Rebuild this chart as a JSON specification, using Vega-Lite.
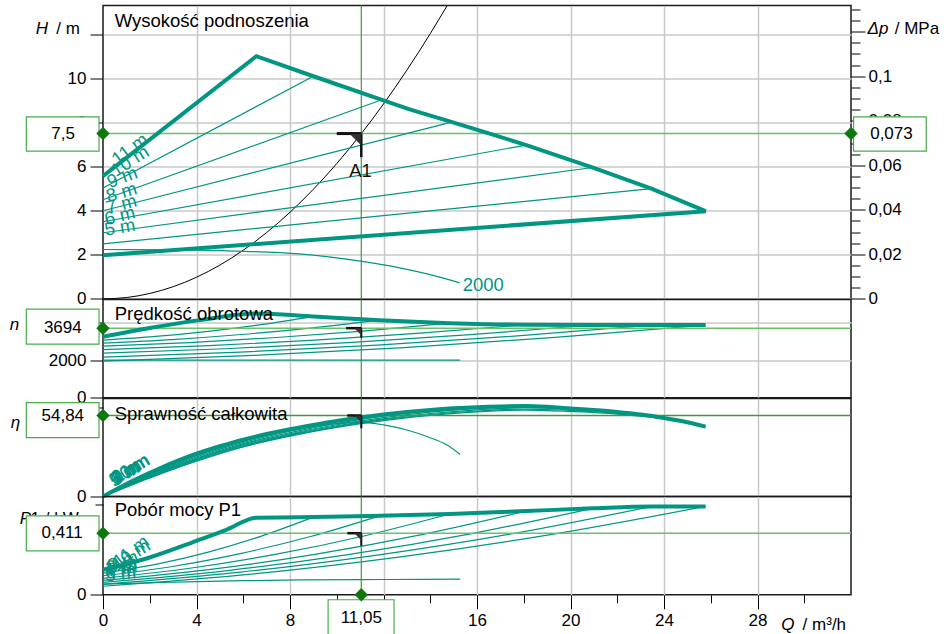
{
"$schema":"https://vega.github.io/schema/vega-lite/v6.json",
"background":"white",
"padding":{"left":8,"top":3.5,"right":0,"bottom":0},
"autosize":{"type":"pad"},
"spacing":0,
"bounds":"flush",
"config":{
 "font":"Liberation Sans",
 "locale":{"number":{"decimal":",","thousands":" ","grouping":[3],"currency":[""," zł"]}},
 "view":{"stroke":"#1a1a1a","strokeWidth":1.5},
 "axis":{"labelFont":"Liberation Sans","labelFontSize":17,"labelColor":"#000","tickColor":"#000","tickWidth":1,"domainColor":"#000","gridColor":"#c8c8c8","gridWidth":1.5,"labelOverlap":false,"labelBound":false},
 "text":{"font":"Liberation Sans","fontSize":17}
},
"datasets":{
 "op":[{"Q":11.05,"H":7.5,"dp":0.073,"n":3694,"e":54.84,"P":0.411}],
 "sys":[{"Q":0,"H":0},{"Q":1,"H":0.061},{"Q":2,"H":0.246},{"Q":3,"H":0.553},{"Q":4,"H":0.982},{"Q":5,"H":1.535},{"Q":6,"H":2.21},{"Q":7,"H":3.009},{"Q":8,"H":3.93},{"Q":9,"H":4.973},{"Q":10,"H":6.14},{"Q":11,"H":7.429},{"Q":12,"H":8.842},{"Q":13,"H":10.377},{"Q":14,"H":12.034},{"Q":14.72,"H":13.3}],
 "hc":[
  {"s":"env","k":"env","o":1,"Q":0,"H":5.57},{"s":"env","k":"env","o":2,"Q":6.56,"H":11.01},{"s":"env","k":"env","o":3,"Q":9.0,"H":10.1},{"s":"env","k":"env","o":4,"Q":11.84,"H":9.06},{"s":"env","k":"env","o":5,"Q":13.12,"H":8.6},{"s":"env","k":"env","o":6,"Q":14.83,"H":8.05},{"s":"env","k":"env","o":7,"Q":16.68,"H":7.45},{"s":"env","k":"env","o":8,"Q":18.11,"H":6.98},{"s":"env","k":"env","o":9,"Q":20.96,"H":5.96},{"s":"env","k":"env","o":10,"Q":23.46,"H":5.0},{"s":"env","k":"env","o":11,"Q":25.78,"H":3.98},{"s":"env","k":"env","o":12,"Q":0,"H":1.98},
  {"s":"10 m","k":"set","Q":0,"H":5.03},{"s":"10 m","k":"set","Q":9.0,"H":10.1},
  {"s":"9 m","k":"set","Q":0,"H":4.5},{"s":"9 m","k":"set","Q":11.84,"H":9.0},
  {"s":"8 m","k":"set","Q":0,"H":4.0},{"s":"8 m","k":"set","Q":14.83,"H":8.0},
  {"s":"7 m","k":"set","Q":0,"H":3.5},{"s":"7 m","k":"set","Q":18.11,"H":6.98},
  {"s":"6 m","k":"set","Q":0,"H":3.0},{"s":"6 m","k":"set","Q":20.96,"H":5.96},
  {"s":"5 m","k":"set","Q":0,"H":2.5},{"s":"5 m","k":"set","Q":23.46,"H":5.0},
  {"s":"2000","k":"spd","Q":0,"H":2.24},{"s":"2000","k":"spd","Q":4,"H":2.21},{"s":"2000","k":"spd","Q":6,"H":2.16},{"s":"2000","k":"spd","Q":8.4,"H":2.04},{"s":"2000","k":"spd","Q":11.02,"H":1.71},{"s":"2000","k":"spd","Q":12.69,"H":1.41},{"s":"2000","k":"spd","Q":14,"H":1.1},{"s":"2000","k":"spd","Q":15.26,"H":0.73}
 ],
 "hlab":[{"s":"11 m","Q":1.15,"H":6.79},{"s":"10 m","Q":1.15,"H":6.25},{"s":"9 m","Q":0.82,"H":5.52},{"s":"8 m","Q":0.79,"H":4.84},{"s":"7 m","Q":0.79,"H":4.3},{"s":"6 m","Q":0.72,"H":3.78},{"s":"5 m","Q":0.72,"H":3.25}],
 "nc":[
  {"s":"env","k":"env","Q":0,"n":3236},{"s":"env","k":"env","Q":2,"n":3700},{"s":"env","k":"env","Q":4.14,"n":4120},{"s":"env","k":"env","Q":6.56,"n":4470},{"s":"env","k":"env","Q":9,"n":4310},{"s":"env","k":"env","Q":11.84,"n":4120},{"s":"env","k":"env","Q":14.83,"n":3960},{"s":"env","k":"env","Q":16,"n":3915},{"s":"env","k":"env","Q":18.11,"n":3878},{"s":"env","k":"env","Q":20.96,"n":3862},{"s":"env","k":"env","Q":23.46,"n":3858},{"s":"env","k":"env","Q":25.78,"n":3857},
  {"s":"10 m","k":"set","Q":0,"n":3060},{"s":"10 m","k":"set","Q":2.25,"n":3255},{"s":"10 m","k":"set","Q":4.5,"n":3529},{"s":"10 m","k":"set","Q":6.75,"n":3880},{"s":"10 m","k":"set","Q":9,"n":4310},
  {"s":"9 m","k":"set","Q":0,"n":2900},{"s":"9 m","k":"set","Q":2.96,"n":3090},{"s":"9 m","k":"set","Q":5.92,"n":3358},{"s":"9 m","k":"set","Q":8.88,"n":3700},{"s":"9 m","k":"set","Q":11.84,"n":4120},
  {"s":"8 m","k":"set","Q":0,"n":2740},{"s":"8 m","k":"set","Q":3.71,"n":2930},{"s":"8 m","k":"set","Q":7.42,"n":3198},{"s":"8 m","k":"set","Q":11.12,"n":3540},{"s":"8 m","k":"set","Q":14.83,"n":3960},
  {"s":"7 m","k":"set","Q":0,"n":2560},{"s":"7 m","k":"set","Q":4.53,"n":2766},{"s":"7 m","k":"set","Q":9.06,"n":3055},{"s":"7 m","k":"set","Q":13.58,"n":3426},{"s":"7 m","k":"set","Q":18.11,"n":3878},
  {"s":"6 m","k":"set","Q":0,"n":2370},{"s":"6 m","k":"set","Q":5.24,"n":2603},{"s":"6 m","k":"set","Q":10.48,"n":2931},{"s":"6 m","k":"set","Q":15.72,"n":3351},{"s":"6 m","k":"set","Q":20.96,"n":3862},
  {"s":"5 m","k":"set","Q":0,"n":2160},{"s":"5 m","k":"set","Q":5.87,"n":2425},{"s":"5 m","k":"set","Q":11.73,"n":2798},{"s":"5 m","k":"set","Q":17.6,"n":3275},{"s":"5 m","k":"set","Q":23.46,"n":3858},
  {"s":"4 m","k":"set","Q":0,"n":1950},{"s":"4 m","k":"set","Q":6.45,"n":2248},{"s":"4 m","k":"set","Q":12.89,"n":2666},{"s":"4 m","k":"set","Q":19.34,"n":3203},{"s":"4 m","k":"set","Q":25.78,"n":3857},
  {"s":"2000","k":"spd","Q":0,"n":2000},{"s":"2000","k":"spd","Q":15.28,"n":2000}
 ],
 "ec":[
  {"s":"env","k":"env","Q":0,"e":0},{"s":"env","k":"env","Q":1,"e":8.5},{"s":"env","k":"env","Q":2,"e":16},{"s":"env","k":"env","Q":3,"e":23},{"s":"env","k":"env","Q":4,"e":29},{"s":"env","k":"env","Q":5,"e":34},{"s":"env","k":"env","Q":6,"e":38.5},{"s":"env","k":"env","Q":7,"e":42.3},{"s":"env","k":"env","Q":8,"e":45.6},{"s":"env","k":"env","Q":9,"e":48.5},{"s":"env","k":"env","Q":10,"e":51.2},{"s":"env","k":"env","Q":11,"e":53.5},{"s":"env","k":"env","Q":12,"e":55.5},{"s":"env","k":"env","Q":13,"e":57.2},{"s":"env","k":"env","Q":14,"e":58.6},{"s":"env","k":"env","Q":15,"e":59.7},{"s":"env","k":"env","Q":16,"e":60.5},{"s":"env","k":"env","Q":17,"e":61},{"s":"env","k":"env","Q":18,"e":61.2},{"s":"env","k":"env","Q":19,"e":60.7},{"s":"env","k":"env","Q":20,"e":59.6},{"s":"env","k":"env","Q":21,"e":58.5},{"s":"env","k":"env","Q":22,"e":57.2},{"s":"env","k":"env","Q":23,"e":55.5},{"s":"env","k":"env","Q":24,"e":53.2},{"s":"env","k":"env","Q":25,"e":50.3},{"s":"env","k":"env","Q":25.78,"e":47.3},
  {"s":"10 m","k":"set","Q":0,"e":0},{"s":"10 m","k":"set","Q":2,"e":15.0},{"s":"10 m","k":"set","Q":4,"e":27.8},{"s":"10 m","k":"set","Q":6,"e":37.7},{"s":"10 m","k":"set","Q":8,"e":45.3},{"s":"10 m","k":"set","Q":9,"e":48.5},
  {"s":"9 m","k":"set","Q":0,"e":0},{"s":"9 m","k":"set","Q":2,"e":14.4},{"s":"9 m","k":"set","Q":4,"e":26.8},{"s":"9 m","k":"set","Q":6,"e":36.6},{"s":"9 m","k":"set","Q":8,"e":44.2},{"s":"9 m","k":"set","Q":10,"e":50.5},{"s":"9 m","k":"set","Q":11.84,"e":55.2},
  {"s":"8 m","k":"set","Q":0,"e":0},{"s":"8 m","k":"set","Q":2,"e":13.9},{"s":"8 m","k":"set","Q":4,"e":26.0},{"s":"8 m","k":"set","Q":6,"e":35.8},{"s":"8 m","k":"set","Q":8,"e":43.3},{"s":"8 m","k":"set","Q":10,"e":49.5},{"s":"8 m","k":"set","Q":12,"e":54.4},{"s":"8 m","k":"set","Q":14,"e":58.3},{"s":"8 m","k":"set","Q":14.83,"e":59.5},
  {"s":"7 m","k":"set","Q":0,"e":0},{"s":"7 m","k":"set","Q":2,"e":13.5},{"s":"7 m","k":"set","Q":4,"e":25.4},{"s":"7 m","k":"set","Q":6,"e":35.1},{"s":"7 m","k":"set","Q":8,"e":42.5},{"s":"7 m","k":"set","Q":10,"e":48.6},{"s":"7 m","k":"set","Q":12,"e":53.4},{"s":"7 m","k":"set","Q":14,"e":57.1},{"s":"7 m","k":"set","Q":16,"e":59.7},{"s":"7 m","k":"set","Q":18.11,"e":61.2},
  {"s":"6 m","k":"set","Q":0,"e":0},{"s":"6 m","k":"set","Q":2,"e":13.2},{"s":"6 m","k":"set","Q":4,"e":24.9},{"s":"6 m","k":"set","Q":6,"e":34.5},{"s":"6 m","k":"set","Q":8,"e":41.9},{"s":"6 m","k":"set","Q":10,"e":47.9},{"s":"6 m","k":"set","Q":12,"e":52.6},{"s":"6 m","k":"set","Q":14,"e":56.2},{"s":"6 m","k":"set","Q":16,"e":58.7},{"s":"6 m","k":"set","Q":18,"e":60.1},{"s":"6 m","k":"set","Q":20,"e":59.2},{"s":"6 m","k":"set","Q":20.96,"e":58.5},
  {"s":"5 m","k":"set","Q":0,"e":0},{"s":"5 m","k":"set","Q":2,"e":12.8},{"s":"5 m","k":"set","Q":4,"e":24.3},{"s":"5 m","k":"set","Q":6,"e":34.0},{"s":"5 m","k":"set","Q":8,"e":41.4},{"s":"5 m","k":"set","Q":10,"e":47.3},{"s":"5 m","k":"set","Q":12,"e":52.0},{"s":"5 m","k":"set","Q":14,"e":55.5},{"s":"5 m","k":"set","Q":16,"e":57.9},{"s":"5 m","k":"set","Q":18,"e":59.2},{"s":"5 m","k":"set","Q":20,"e":58.3},{"s":"5 m","k":"set","Q":22,"e":56.6},{"s":"5 m","k":"set","Q":23.46,"e":54.4},
  {"s":"4 m","k":"set","Q":0,"e":0},{"s":"4 m","k":"set","Q":2,"e":12.6},{"s":"4 m","k":"set","Q":4,"e":23.9},{"s":"4 m","k":"set","Q":6,"e":33.6},{"s":"4 m","k":"set","Q":8,"e":40.9},{"s":"4 m","k":"set","Q":10,"e":46.8},{"s":"4 m","k":"set","Q":12,"e":51.4},{"s":"4 m","k":"set","Q":14,"e":54.9},{"s":"4 m","k":"set","Q":16,"e":57.3},{"s":"4 m","k":"set","Q":18,"e":58.5},{"s":"4 m","k":"set","Q":20,"e":57.5},{"s":"4 m","k":"set","Q":22,"e":55.8},{"s":"4 m","k":"set","Q":24,"e":52.5},{"s":"4 m","k":"set","Q":25.78,"e":47.3},
  {"s":"2000","k":"spd","Q":0,"e":0},{"s":"2000","k":"spd","Q":2,"e":15},{"s":"2000","k":"spd","Q":4,"e":28},{"s":"2000","k":"spd","Q":6,"e":37.5},{"s":"2000","k":"spd","Q":8,"e":44.5},{"s":"2000","k":"spd","Q":10,"e":49.3},{"s":"2000","k":"spd","Q":11,"e":50.3},{"s":"2000","k":"spd","Q":12,"e":48.5},{"s":"2000","k":"spd","Q":13,"e":45},{"s":"2000","k":"spd","Q":14,"e":39.8},{"s":"2000","k":"spd","Q":14.7,"e":35},{"s":"2000","k":"spd","Q":15.28,"e":28.5}
 ],
 "elab":[{"s":"11 m","Q":1.2,"e":19.0},{"s":"10 m","Q":1.15,"e":18.3},{"s":"9 m","Q":1.0,"e":17.4},{"s":"8 m","Q":1.0,"e":16.8},{"s":"7 m","Q":0.95,"e":16.2},{"s":"6 m","Q":0.95,"e":15.6},{"s":"5 m","Q":0.9,"e":15.0}],
 "pc":[
  {"s":"env","k":"env","Q":0,"P":0.167},{"s":"env","k":"env","Q":1.86,"P":0.242},{"s":"env","k":"env","Q":4,"P":0.36},{"s":"env","k":"env","Q":5.3,"P":0.435},{"s":"env","k":"env","Q":6.56,"P":0.515},{"s":"env","k":"env","Q":8.4,"P":0.517},{"s":"env","k":"env","Q":11.84,"P":0.527},{"s":"env","k":"env","Q":14.83,"P":0.539},{"s":"env","k":"env","Q":18.11,"P":0.559},{"s":"env","k":"env","Q":20.96,"P":0.577},{"s":"env","k":"env","Q":23.46,"P":0.589},{"s":"env","k":"env","Q":25.78,"P":0.59},
  {"s":"10 m","k":"set","Q":0,"P":0.145},{"s":"10 m","k":"set","Q":2.25,"P":0.203},{"s":"10 m","k":"set","Q":4.5,"P":0.285},{"s":"10 m","k":"set","Q":6.75,"P":0.39},{"s":"10 m","k":"set","Q":9,"P":0.518},
  {"s":"9 m","k":"set","Q":0,"P":0.127},{"s":"9 m","k":"set","Q":2.96,"P":0.189},{"s":"9 m","k":"set","Q":5.92,"P":0.277},{"s":"9 m","k":"set","Q":8.88,"P":0.389},{"s":"9 m","k":"set","Q":11.84,"P":0.527},
  {"s":"8 m","k":"set","Q":0,"P":0.11},{"s":"8 m","k":"set","Q":3.71,"P":0.177},{"s":"8 m","k":"set","Q":7.42,"P":0.271},{"s":"8 m","k":"set","Q":11.12,"P":0.391},{"s":"8 m","k":"set","Q":14.83,"P":0.539},
  {"s":"7 m","k":"set","Q":0,"P":0.096},{"s":"7 m","k":"set","Q":4.53,"P":0.168},{"s":"7 m","k":"set","Q":9.06,"P":0.27},{"s":"7 m","k":"set","Q":13.58,"P":0.4},{"s":"7 m","k":"set","Q":18.11,"P":0.559},
  {"s":"6 m","k":"set","Q":0,"P":0.083},{"s":"6 m","k":"set","Q":5.24,"P":0.16},{"s":"6 m","k":"set","Q":10.48,"P":0.268},{"s":"6 m","k":"set","Q":15.72,"P":0.407},{"s":"6 m","k":"set","Q":20.96,"P":0.577},
  {"s":"5 m","k":"set","Q":0,"P":0.07},{"s":"5 m","k":"set","Q":5.87,"P":0.151},{"s":"5 m","k":"set","Q":11.73,"P":0.265},{"s":"5 m","k":"set","Q":17.6,"P":0.41},{"s":"5 m","k":"set","Q":23.46,"P":0.589},
  {"s":"4 m","k":"set","Q":0,"P":0.057},{"s":"4 m","k":"set","Q":6.45,"P":0.14},{"s":"4 m","k":"set","Q":12.89,"P":0.257},{"s":"4 m","k":"set","Q":19.34,"P":0.407},{"s":"4 m","k":"set","Q":25.78,"P":0.59},
  {"s":"2000","k":"spd","Q":0,"P":0.071},{"s":"2000","k":"spd","Q":2,"P":0.08},{"s":"2000","k":"spd","Q":4,"P":0.088},{"s":"2000","k":"spd","Q":6,"P":0.094},{"s":"2000","k":"spd","Q":8.4,"P":0.099},{"s":"2000","k":"spd","Q":12,"P":0.102},{"s":"2000","k":"spd","Q":15.28,"P":0.104}
 ],
 "plab":[{"s":"11 m","Q":1.2,"P":0.29},{"s":"10 m","Q":1.2,"P":0.265},{"s":"9 m","Q":0.85,"P":0.225},{"s":"8 m","Q":0.8,"P":0.2},{"s":"7 m","Q":0.8,"P":0.18},{"s":"6 m","Q":0.75,"P":0.16},{"s":"5 m","Q":0.75,"P":0.14}]
},
"vconcat":[
 {
  "width":748,"height":293.4,
  "resolve":{"scale":{"y":"independent"},"axis":{"y":"independent"}},
  "layer":[
   {"layer":[
    {"data":{"name":"sys"},"mark":{"type":"line","color":"#000","strokeWidth":1,"clip":true,"interpolate":"monotone"},
     "encoding":{
      "x":{"field":"Q","type":"quantitative","scale":{"domain":[0,32],"nice":false,"zero":false},"axis":{"values":[4,8,12,16,20,24,28],"grid":true,"labels":false,"ticks":false,"domain":false,"title":null}},
      "y":{"field":"H","type":"quantitative","scale":{"domain":[0,13.31],"nice":false,"zero":false},"axis":{"values":[0,0.5,1,1.5,2,2.5,3,3.5,4,4.5,5,5.5,6,6.5,7,7.5,8,8.5,9,9.5,10,10.5,11,11.5,12,12.5,13],"format":"~g","labelExpr":"datum.value % 2 == 0 && datum.value < 12 ? datum.label : ''","labelFontSize":{"condition":{"test":"datum.value % 2 == 0 && datum.value < 12","value":17},"value":1},"tickSize":{"condition":{"test":"datum.value % 2 == 0","value":13},"value":8},"grid":true,"gridOpacity":{"condition":{"test":"datum.value % 2 == 0","value":1},"value":0},"domain":false,"title":null,"labelPadding":4}}}},
    {"data":{"name":"op"},"mark":{"type":"rule","color":"#6cc06c","strokeWidth":1.5},"encoding":{"y":{"field":"H","type":"quantitative"}}},
    {"data":{"name":"op"},"mark":{"type":"rule","color":"#3c9a3c","strokeWidth":1.2},"encoding":{"x":{"field":"Q","type":"quantitative"}}},
    {"data":{"name":"hc"},"transform":[{"filter":"datum.k == 'set'"}],"mark":{"type":"line","color":"#009682","strokeWidth":1.2},"encoding":{"x":{"field":"Q","type":"quantitative"},"y":{"field":"H","type":"quantitative"},"detail":{"field":"s","type":"nominal"}}},
    {"data":{"name":"hc"},"transform":[{"filter":"datum.k == 'spd'"}],"mark":{"type":"line","color":"#009682","strokeWidth":1.2,"interpolate":"monotone"},"encoding":{"x":{"field":"Q","type":"quantitative"},"y":{"field":"H","type":"quantitative"}}},
    {"data":{"name":"hc"},"transform":[{"filter":"datum.k == 'env'"}],"mark":{"type":"line","color":"#009682","strokeWidth":4,"strokeJoin":"miter"},"encoding":{"x":{"field":"Q","type":"quantitative"},"y":{"field":"H","type":"quantitative"},"order":{"field":"o","type":"quantitative"}}},
    {"data":{"name":"hlab"},"mark":{"type":"text","color":"#009682","fontSize":18.5,"align":"center","baseline":"middle","angle":{"expr":"datum.s == '11 m' ? 323 : datum.s == '10 m' ? 327 : datum.s == '9 m' ? 340 : datum.s == '8 m' ? 344 : datum.s == '7 m' ? 345 : datum.s == '6 m' ? 346 : 350"}},"encoding":{"x":{"field":"Q","type":"quantitative"},"y":{"field":"H","type":"quantitative"},"text":{"field":"s","type":"nominal"}}},
    {"data":{"name":"op"},"mark":{"type":"text","text":"2000","color":"#009682","fontSize":18.5,"align":"left","baseline":"middle"},"encoding":{"x":{"datum":15.39,"type":"quantitative"},"y":{"datum":0.62,"type":"quantitative"}}},
    {"data":{"name":"op"},"mark":{"type":"rule","color":"#111","strokeWidth":3},"encoding":{"x":{"field":"Q","type":"quantitative"},"x2":{"datum":10.0},"y":{"field":"H","type":"quantitative"}}},
    {"data":{"name":"op"},"mark":{"type":"rule","color":"#111","strokeWidth":2.5},"encoding":{"x":{"field":"Q","type":"quantitative"},"y":{"field":"H","type":"quantitative"},"y2":{"datum":6.43}}},
    {"data":{"name":"op"},"mark":{"type":"point","shape":"M -1 -1 L 1 -1 L 1 1 Z","filled":true,"color":"#333","opacity":1,"size":121,"xOffset":-6,"yOffset":6},"encoding":{"x":{"field":"Q","type":"quantitative"},"y":{"field":"H","type":"quantitative"}}},
    {"data":{"name":"op"},"mark":{"type":"text","text":"A1","fontSize":18.5,"align":"center","baseline":"middle","color":"#111"},"encoding":{"x":{"datum":11.02,"type":"quantitative"},"y":{"datum":5.81,"type":"quantitative"}}},
    {"data":{"name":"op"},"mark":{"type":"text","text":"Wysokość podnoszenia","fontSize":18.5,"align":"left","baseline":"alphabetic","color":"#000"},"encoding":{"x":{"datum":0.5,"type":"quantitative"},"y":{"datum":12.33,"type":"quantitative"}}},
    {"data":{"name":"op"},"mark":{"type":"text","text":"H","fontSize":17,"fontStyle":"italic","align":"left","baseline":"alphabetic"},"encoding":{"x":{"datum":-2.88,"type":"quantitative"},"y":{"datum":12,"type":"quantitative"}}},
    {"data":{"name":"op"},"mark":{"type":"text","text":"/  m","fontSize":17,"align":"left","baseline":"alphabetic"},"encoding":{"x":{"datum":-2.0,"type":"quantitative"},"y":{"datum":12,"type":"quantitative"}}},
    {"data":{"name":"op"},"mark":{"type":"text","text":"Δp","fontSize":17,"fontStyle":"italic","align":"left","baseline":"alphabetic"},"encoding":{"x":{"datum":32.71,"type":"quantitative"},"y":{"datum":12,"type":"quantitative"}}},
    {"data":{"name":"op"},"mark":{"type":"text","text":"/ MPa","fontSize":17,"align":"left","baseline":"alphabetic"},"encoding":{"x":{"datum":33.87,"type":"quantitative"},"y":{"datum":12,"type":"quantitative"}}},
    {"data":{"name":"op"},"mark":{"type":"rect","fill":"white","stroke":"#4aab4a","strokeWidth":1.2},"encoding":{"x":{"datum":-3.28,"type":"quantitative"},"x2":{"datum":-0.17},"y":{"datum":6.7,"type":"quantitative"},"y2":{"datum":8.26}}},
    {"data":{"name":"op"},"mark":{"type":"text","fontSize":17,"align":"center","baseline":"middle","color":"#000"},"encoding":{"x":{"datum":-1.71,"type":"quantitative"},"y":{"field":"H","type":"quantitative"},"text":{"field":"H","type":"quantitative","format":".1f"}}},
    {"data":{"name":"op"},"mark":{"type":"rect","fill":"white","stroke":"#4aab4a","strokeWidth":1.2},"encoding":{"x":{"datum":32.11,"type":"quantitative"},"x2":{"datum":35.22},"y":{"datum":6.7,"type":"quantitative"},"y2":{"datum":8.26}}},
    {"data":{"name":"op"},"mark":{"type":"text","fontSize":17,"align":"center","baseline":"middle","color":"#000"},"encoding":{"x":{"datum":33.73,"type":"quantitative"},"y":{"field":"H","type":"quantitative"},"text":{"field":"dp","type":"quantitative","format":".3f"}}},
    {"data":{"name":"op"},"mark":{"type":"point","shape":"diamond","filled":true,"color":"#0e780e","opacity":1,"size":180},"encoding":{"x":{"datum":0,"type":"quantitative"},"y":{"field":"H","type":"quantitative"}}},
    {"data":{"name":"op"},"mark":{"type":"point","shape":"diamond","filled":true,"color":"#0e780e","opacity":1,"size":180},"encoding":{"x":{"datum":32,"type":"quantitative"},"y":{"field":"H","type":"quantitative"}}}
   ]},
   {"data":{"name":"op"},"mark":{"type":"point","opacity":0},
    "encoding":{"x":{"datum":32,"type":"quantitative"},
     "y":{"field":"dp","type":"quantitative","scale":{"domain":[0,0.13177],"nice":false,"zero":false},"axis":{"orient":"right","values":[0,0.005,0.01,0.015,0.02,0.025,0.03,0.035,0.04,0.045,0.05,0.055,0.06,0.065,0.07,0.075,0.08,0.085,0.09,0.095,0.1,0.105,0.11,0.115,0.12,0.125,0.13],"format":"~g","labelExpr":"abs(datum.value*50 - round(datum.value*50)) < 0.0001 && datum.value < 0.11 ? datum.label : ''","labelFontSize":{"condition":{"test":"abs(datum.value*50 - round(datum.value*50)) < 0.0001 && datum.value < 0.11","value":17},"value":1},"tickSize":{"condition":{"test":"abs(datum.value*50 - round(datum.value*50)) < 0.0001","value":14},"value":9},"grid":false,"domain":false,"title":null,"labelPadding":3}}}}
  ]
 },
 {
  "width":748,"height":98.3,
  "layer":[
   {"data":{"name":"nc"},"transform":[{"filter":"datum.k == 'set'"}],"mark":{"type":"line","color":"#009682","strokeWidth":1.2,"interpolate":"monotone"},
    "encoding":{
     "x":{"field":"Q","type":"quantitative","scale":{"domain":[0,32],"nice":false,"zero":false},"axis":{"values":[4,8,12,16,20,24,28],"grid":true,"labels":false,"ticks":false,"domain":false,"title":null}},
     "y":{"field":"n","type":"quantitative","scale":{"domain":[0,5215],"nice":false,"zero":false},"axis":{"values":[0,500,1000,1500,2000,2500,3000,3500,4000,4500,5000],"format":"d","labelExpr":"datum.value == 0 || datum.value == 2000 ? datum.label : ''","labelFontSize":{"condition":{"test":"datum.value == 0 || datum.value == 2000","value":17},"value":1},"tickSize":{"condition":{"test":"datum.value % 2000 == 0","value":13},"value":8},"grid":true,"gridOpacity":{"condition":{"test":"datum.value == 2000 || datum.value == 4000","value":1},"value":0},"domain":false,"title":null,"labelPadding":4}},
     "detail":{"field":"s","type":"nominal"}}},
   {"data":{"name":"op"},"mark":{"type":"rule","color":"#6cc06c","strokeWidth":1.5},"encoding":{"y":{"field":"n","type":"quantitative"}}},
   {"data":{"name":"op"},"mark":{"type":"rule","color":"#3c9a3c","strokeWidth":1.2},"encoding":{"x":{"field":"Q","type":"quantitative"}}},
   {"data":{"name":"nc"},"transform":[{"filter":"datum.k == 'spd'"}],"mark":{"type":"line","color":"#009682","strokeWidth":1.2},"encoding":{"x":{"field":"Q","type":"quantitative"},"y":{"field":"n","type":"quantitative"}}},
   {"data":{"name":"nc"},"transform":[{"filter":"datum.k == 'env'"}],"mark":{"type":"line","color":"#009682","strokeWidth":4,"interpolate":"monotone"},"encoding":{"x":{"field":"Q","type":"quantitative"},"y":{"field":"n","type":"quantitative"}}},
   {"data":{"name":"op"},"mark":{"type":"rule","color":"#111","strokeWidth":2.5},"encoding":{"x":{"field":"Q","type":"quantitative"},"x2":{"datum":10.4},"y":{"field":"n","type":"quantitative"}}},
   {"data":{"name":"op"},"mark":{"type":"rule","color":"#111","strokeWidth":2},"encoding":{"x":{"field":"Q","type":"quantitative"},"y":{"field":"n","type":"quantitative"},"y2":{"datum":3183}}},
   {"data":{"name":"op"},"mark":{"type":"point","shape":"M -1 -1 L 1 -1 L 1 1 Z","filled":true,"color":"#333","opacity":1,"size":49,"xOffset":-3.5,"yOffset":3.5},"encoding":{"x":{"field":"Q","type":"quantitative"},"y":{"field":"n","type":"quantitative"}}},
   {"data":{"name":"op"},"mark":{"type":"text","text":"Prędkość obrotowa","fontSize":18.5,"align":"left","baseline":"alphabetic","color":"#000"},"encoding":{"x":{"datum":0.5,"type":"quantitative"},"y":{"datum":4122,"type":"quantitative"}}},
   {"data":{"name":"op"},"mark":{"type":"text","text":"n","fontSize":17,"fontStyle":"italic","align":"left","baseline":"middle"},"encoding":{"x":{"datum":-3.99,"type":"quantitative"},"y":{"datum":3870,"type":"quantitative"}}},
   {"data":{"name":"op"},"mark":{"type":"rect","fill":"white","stroke":"#4aab4a","strokeWidth":1.2},"encoding":{"x":{"datum":-3.28,"type":"quantitative"},"x2":{"datum":-0.17},"y":{"datum":2849,"type":"quantitative"},"y2":{"datum":4706}}},
   {"data":{"name":"op"},"mark":{"type":"text","fontSize":17,"align":"center","baseline":"middle","color":"#000"},"encoding":{"x":{"datum":-1.72,"type":"quantitative"},"y":{"field":"n","type":"quantitative"},"text":{"field":"n","type":"quantitative","format":"d"}}},
   {"data":{"name":"op"},"mark":{"type":"point","shape":"diamond","filled":true,"color":"#0e780e","opacity":1,"size":180},"encoding":{"x":{"datum":0,"type":"quantitative"},"y":{"field":"n","type":"quantitative"}}}
  ]
 },
 {
  "width":748,"height":98,
  "layer":[
   {"data":{"name":"ec"},"transform":[{"filter":"datum.k == 'set'"}],"mark":{"type":"line","color":"#009682","strokeWidth":1.2,"interpolate":"monotone"},
    "encoding":{
     "x":{"field":"Q","type":"quantitative","scale":{"domain":[0,32],"nice":false,"zero":false},"axis":{"values":[4,8,12,16,20,24,28],"grid":true,"labels":false,"ticks":false,"domain":false,"title":null}},
     "y":{"field":"e","type":"quantitative","scale":{"domain":[0,66.35],"nice":false,"zero":false},"axis":{"values":[0,10,20,30,40,50,60],"format":"d","labelExpr":"datum.value == 0 ? datum.label : ''","labelFontSize":{"condition":{"test":"datum.value == 0","value":17},"value":1},"tickSize":{"condition":{"test":"datum.value == 0 || datum.value == 40","value":13},"value":8},"grid":true,"gridOpacity":{"condition":{"test":"datum.value == 40","value":1},"value":0},"domain":false,"title":null,"labelPadding":4}},
     "detail":{"field":"s","type":"nominal"}}},
   {"data":{"name":"op"},"mark":{"type":"rule","color":"#3c9a3c","strokeWidth":1.3},"encoding":{"y":{"field":"e","type":"quantitative"}}},
   {"data":{"name":"op"},"mark":{"type":"rule","color":"#3c9a3c","strokeWidth":1.2},"encoding":{"x":{"field":"Q","type":"quantitative"}}},
   {"data":{"name":"ec"},"transform":[{"filter":"datum.k == 'spd'"}],"mark":{"type":"line","color":"#009682","strokeWidth":1.2,"interpolate":"monotone"},"encoding":{"x":{"field":"Q","type":"quantitative"},"y":{"field":"e","type":"quantitative"}}},
   {"data":{"name":"ec"},"transform":[{"filter":"datum.k == 'env'"}],"mark":{"type":"line","color":"#009682","strokeWidth":4,"interpolate":"monotone"},"encoding":{"x":{"field":"Q","type":"quantitative"},"y":{"field":"e","type":"quantitative"}}},
   {"data":{"name":"elab"},"mark":{"type":"text","color":"#009682","fontSize":18.5,"align":"center","baseline":"middle","angle":329},"encoding":{"x":{"field":"Q","type":"quantitative"},"y":{"field":"e","type":"quantitative"},"text":{"field":"s","type":"nominal"}}},
   {"data":{"name":"op"},"mark":{"type":"rule","color":"#111","strokeWidth":2.5},"encoding":{"x":{"field":"Q","type":"quantitative"},"x2":{"datum":10.45},"y":{"field":"e","type":"quantitative"}}},
   {"data":{"name":"op"},"mark":{"type":"rule","color":"#111","strokeWidth":2},"encoding":{"x":{"field":"Q","type":"quantitative"},"y":{"field":"e","type":"quantitative"},"y2":{"datum":46.2}}},
   {"data":{"name":"op"},"mark":{"type":"point","shape":"M -1 -1 L 1 -1 L 1 1 Z","filled":true,"color":"#333","opacity":1,"size":49,"xOffset":-3.5,"yOffset":3.5},"encoding":{"x":{"field":"Q","type":"quantitative"},"y":{"field":"e","type":"quantitative"}}},
   {"data":{"name":"op"},"mark":{"type":"text","text":"Sprawność całkowita","fontSize":18.5,"align":"left","baseline":"alphabetic","color":"#000"},"encoding":{"x":{"datum":0.5,"type":"quantitative"},"y":{"datum":51.9,"type":"quantitative"}}},
   {"data":{"name":"op"},"mark":{"type":"text","text":"η","fontSize":17,"fontStyle":"italic","align":"left","baseline":"middle"},"encoding":{"x":{"datum":-3.95,"type":"quantitative"},"y":{"datum":50.1,"type":"quantitative"}}},
   {"data":{"name":"op"},"mark":{"type":"rect","fill":"white","stroke":"#4aab4a","strokeWidth":1.2},"encoding":{"x":{"datum":-3.28,"type":"quantitative"},"x2":{"datum":-0.17},"y":{"datum":39.9,"type":"quantitative"},"y2":{"datum":63.6}}},
   {"data":{"name":"op"},"mark":{"type":"text","fontSize":17,"align":"center","baseline":"middle","color":"#000"},"encoding":{"x":{"datum":-1.72,"type":"quantitative"},"y":{"field":"e","type":"quantitative"},"text":{"field":"e","type":"quantitative","format":".2f"}}},
   {"data":{"name":"op"},"mark":{"type":"point","shape":"diamond","filled":true,"color":"#0e780e","opacity":1,"size":180},"encoding":{"x":{"datum":0,"type":"quantitative"},"y":{"field":"e","type":"quantitative"}}}
  ]
 },
 {
  "width":748,"height":98.3,
  "layer":[
   {"data":{"name":"pc"},"transform":[{"filter":"datum.k == 'set'"}],"mark":{"type":"line","color":"#009682","strokeWidth":1.2,"interpolate":"monotone"},
    "encoding":{
     "x":{"field":"Q","type":"quantitative","scale":{"domain":[0,32],"nice":false,"zero":false},"axis":{"values":[0,1,2,3,4,5,6,7,8,9,10,11,12,13,14,15,16,17,18,19,20,21,22,23,24,25,26,27,28,29,30,31],"format":"d","labelExpr":"datum.value % 4 == 0 ? datum.label : ''","labelFontSize":{"condition":{"test":"datum.value % 4 == 0","value":17},"value":1},"tickSize":{"condition":{"test":"datum.value % 4 == 0","value":14},"value":8},"grid":true,"gridOpacity":{"condition":{"test":"datum.value % 4 == 0 && datum.value > 0","value":1},"value":0},"domain":false,"title":null,"labelFlush":false,"labelPadding":4}},
     "y":{"field":"P","type":"quantitative","scale":{"domain":[0,0.656],"nice":false,"zero":false},"axis":{"values":[0,0.1,0.2,0.3,0.4,0.5,0.6],"format":"~g","labelExpr":"datum.value == 0 ? datum.label : ''","labelFontSize":{"condition":{"test":"datum.value == 0","value":17},"value":1},"tickSize":{"condition":{"test":"datum.value == 0 || datum.value == 0.4","value":13},"value":8},"grid":true,"gridOpacity":{"condition":{"test":"datum.value == 0.4","value":1},"value":0},"domain":false,"title":null,"labelPadding":4}},
     "detail":{"field":"s","type":"nominal"}}},
   {"data":{"name":"op"},"mark":{"type":"rule","color":"#6cc06c","strokeWidth":1.5},"encoding":{"y":{"field":"P","type":"quantitative"}}},
   {"data":{"name":"op"},"mark":{"type":"rule","color":"#3c9a3c","strokeWidth":1.2},"encoding":{"x":{"field":"Q","type":"quantitative"}}},
   {"data":{"name":"pc"},"transform":[{"filter":"datum.k == 'spd'"}],"mark":{"type":"line","color":"#009682","strokeWidth":1.2,"interpolate":"monotone"},"encoding":{"x":{"field":"Q","type":"quantitative"},"y":{"field":"P","type":"quantitative"}}},
   {"data":{"name":"pc"},"transform":[{"filter":"datum.k == 'env'"}],"mark":{"type":"line","color":"#009682","strokeWidth":4,"interpolate":"monotone"},"encoding":{"x":{"field":"Q","type":"quantitative"},"y":{"field":"P","type":"quantitative"}}},
   {"data":{"name":"plab"},"mark":{"type":"text","color":"#009682","fontSize":18.5,"align":"center","baseline":"middle","angle":{"expr":"datum.s == '11 m' ? 322 : datum.s == '10 m' ? 327 : datum.s == '9 m' ? 340 : datum.s == '8 m' ? 348 : datum.s == '7 m' ? 350 : datum.s == '6 m' ? 352 : 354"}},"encoding":{"x":{"field":"Q","type":"quantitative"},"y":{"field":"P","type":"quantitative"},"text":{"field":"s","type":"nominal"}}},
   {"data":{"name":"op"},"mark":{"type":"rule","color":"#111","strokeWidth":2.5},"encoding":{"x":{"field":"Q","type":"quantitative"},"x2":{"datum":10.45},"y":{"field":"P","type":"quantitative"}}},
   {"data":{"name":"op"},"mark":{"type":"rule","color":"#111","strokeWidth":2},"encoding":{"x":{"field":"Q","type":"quantitative"},"y":{"field":"P","type":"quantitative"},"y2":{"datum":0.327}}},
   {"data":{"name":"op"},"mark":{"type":"point","shape":"M -1 -1 L 1 -1 L 1 1 Z","filled":true,"color":"#333","opacity":1,"size":49,"xOffset":-3.5,"yOffset":3.5},"encoding":{"x":{"field":"Q","type":"quantitative"},"y":{"field":"P","type":"quantitative"}}},
   {"data":{"name":"op"},"mark":{"type":"text","text":"Pobór mocy P1","fontSize":18.5,"align":"left","baseline":"alphabetic","color":"#000"},"encoding":{"x":{"datum":0.5,"type":"quantitative"},"y":{"datum":0.527,"type":"quantitative"}}},
   {"data":{"name":"op"},"mark":{"type":"text","text":"P","fontSize":17,"fontStyle":"italic","align":"left","baseline":"middle"},"encoding":{"x":{"datum":-3.56,"type":"quantitative"},"y":{"datum":0.509,"type":"quantitative"}}},
   {"data":{"name":"op"},"mark":{"type":"text","text":"1 / kW","fontSize":17,"align":"left","baseline":"middle"},"encoding":{"x":{"datum":-3.1,"type":"quantitative"},"y":{"datum":0.509,"type":"quantitative"}}},
   {"data":{"name":"op"},"mark":{"type":"rect","fill":"white","stroke":"#4aab4a","strokeWidth":1.2},"encoding":{"x":{"datum":-3.28,"type":"quantitative"},"x2":{"datum":-0.17},"y":{"datum":0.2935,"type":"quantitative"},"y2":{"datum":0.527}}},
   {"data":{"name":"op"},"mark":{"type":"text","fontSize":17,"align":"center","baseline":"middle","color":"#000"},"encoding":{"x":{"datum":-1.75,"type":"quantitative"},"y":{"field":"P","type":"quantitative"},"text":{"field":"P","type":"quantitative","format":".3f"}}},
   {"data":{"name":"op"},"mark":{"type":"point","shape":"diamond","filled":true,"color":"#0e780e","opacity":1,"size":180},"encoding":{"x":{"datum":0,"type":"quantitative"},"y":{"field":"P","type":"quantitative"}}},
   {"data":{"name":"op"},"mark":{"type":"rect","fill":"white","stroke":"#4aab4a","strokeWidth":1.2},"encoding":{"x":{"datum":9.63,"type":"quantitative"},"x2":{"datum":12.45},"y":{"datum":-0.033,"type":"quantitative"},"y2":{"datum":-0.35}}},
   {"data":{"name":"op"},"mark":{"type":"text","fontSize":17,"align":"center","baseline":"middle","color":"#000"},"encoding":{"x":{"field":"Q","type":"quantitative"},"y":{"datum":-0.158,"type":"quantitative"},"text":{"field":"Q","type":"quantitative","format":".2f"}}},
   {"data":{"name":"op"},"mark":{"type":"point","shape":"diamond","filled":true,"color":"#0e780e","opacity":1,"size":180},"encoding":{"x":{"field":"Q","type":"quantitative"},"y":{"datum":0,"type":"quantitative"}}},
   {"data":{"name":"op"},"mark":{"type":"text","text":"Q","fontSize":17,"fontStyle":"italic","align":"left","baseline":"alphabetic"},"encoding":{"x":{"datum":29.02,"type":"quantitative"},"y":{"datum":-0.235,"type":"quantitative"}}},
   {"data":{"name":"op"},"mark":{"type":"text","text":"/ m³/h","fontSize":17,"align":"left","baseline":"alphabetic"},"encoding":{"x":{"datum":29.93,"type":"quantitative"},"y":{"datum":-0.235,"type":"quantitative"}}}
  ]
 }
]
}
